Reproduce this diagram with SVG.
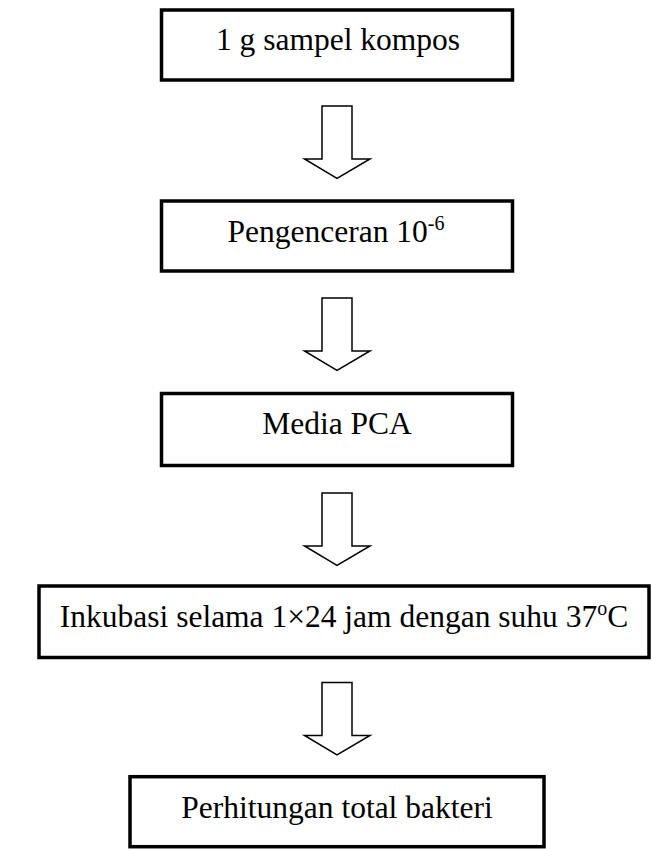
<svg xmlns="http://www.w3.org/2000/svg" width="651" height="849" viewBox="0 0 651 849">
<style>
.box{fill:#fff;stroke:#000;stroke-width:3.5}
.arr{fill:#fff;stroke:#000;stroke-width:1.5;stroke-linejoin:miter}
.t{font-family:"Liberation Serif","Times New Roman",serif;font-size:31.5px;fill:#000;text-anchor:middle}
.sup{font-size:20px}
</style>
<rect width="651" height="849" fill="#fff"/>
<defs>
<path id="arrow" d="M322,0 H352 V53 H370 L337,72.5 L304.5,53 H322 Z"/>
</defs>
<g id="node1">
<rect class="box" x="161.5" y="10" width="351" height="70"/>
<text class="t" x="338" y="50">1 g sampel kompos</text>
</g>
<g id="node2">
<rect class="box" x="161.5" y="201" width="351" height="70"/>
<text class="t" x="336" y="241.5">Pengenceran 10<tspan class="sup" dy="-12">-6</tspan></text>
</g>
<g id="node3">
<rect class="box" x="161.5" y="393.5" width="351" height="72"/>
<text class="t" x="337" y="434">Media PCA</text>
</g>
<g id="node4">
<rect class="box" x="39" y="586" width="610" height="71.5"/>
<text class="t" x="344" y="626.5">Inkubasi selama 1×24 jam dengan suhu 37<tspan class="sup" dy="-12">o</tspan><tspan dy="12">C</tspan></text>
</g>
<g id="node5">
<rect class="box" x="130" y="776.7" width="414" height="70"/>
<text class="t" x="337" y="817.5">Perhitungan total bakteri</text>
</g>
<g id="connectors">
<use href="#arrow" class="arr" y="106"/>
<use href="#arrow" class="arr" y="298"/>
<use href="#arrow" class="arr" y="493"/>
<use href="#arrow" class="arr" y="682.5"/>
</g>
</svg>
